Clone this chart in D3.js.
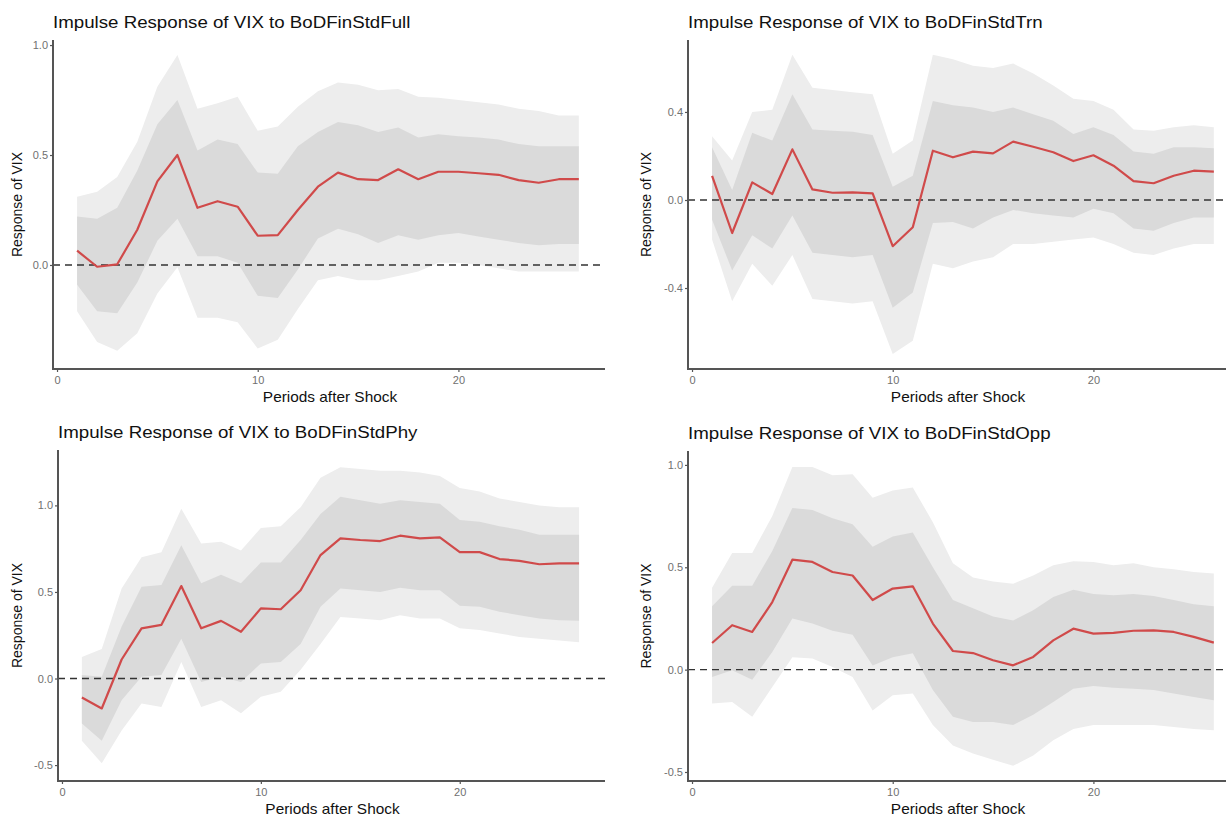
<!DOCTYPE html>
<html>
<head>
<meta charset="utf-8">
<script src="https://cdn.jsdelivr.net/npm/d3@7"></script>
<style>
  html, body { margin: 0; padding: 0; background: #ffffff; }
  svg { display: block; }
</style>
</head>
<body>
<svg id="chart" width="1226" height="817"></svg>
<script>
// ---------------- DATA ----------------
const periods = d3.range(1, 27);
const xTicks = [0, 10, 20];

// Panel 1: BoDFinStdFull
const fullIrf   = [0.065,-0.008,0.003,0.16,0.38,0.50,0.26,0.29,0.265,0.133,0.136,0.25,0.356,0.42,0.39,0.386,0.435,0.39,0.424,0.424,0.417,0.41,0.386,0.374,0.39,0.39];
const fullHi68  = [0.22,0.21,0.26,0.43,0.64,0.75,0.52,0.57,0.55,0.42,0.415,0.54,0.605,0.65,0.635,0.605,0.625,0.58,0.595,0.585,0.58,0.57,0.55,0.54,0.54,0.54];
const fullLo68  = [-0.09,-0.21,-0.22,-0.08,0.11,0.21,0.04,0.04,0.01,-0.14,-0.15,-0.02,0.12,0.165,0.14,0.10,0.135,0.115,0.135,0.145,0.13,0.115,0.10,0.09,0.095,0.095];
const fullHi95  = [0.31,0.333,0.40,0.56,0.81,0.955,0.71,0.735,0.765,0.61,0.63,0.72,0.79,0.83,0.82,0.795,0.80,0.765,0.76,0.75,0.74,0.73,0.71,0.70,0.68,0.68];
const fullLo95  = [-0.21,-0.35,-0.39,-0.31,-0.13,-0.01,-0.24,-0.24,-0.26,-0.38,-0.34,-0.2,-0.07,-0.05,-0.07,-0.07,-0.05,-0.03,0.01,0.01,0.0,-0.015,-0.03,-0.03,-0.03,-0.03];
const fullTicks = [0, 0.5, 1.0];

// Panel 2: BoDFinStdTrn
const trnIrf    = [0.11,-0.15,0.08,0.027,0.23,0.048,0.033,0.035,0.03,-0.21,-0.124,0.224,0.194,0.22,0.212,0.265,0.242,0.217,0.177,0.203,0.156,0.086,0.076,0.11,0.133,0.129];
const trnHi68   = [0.24,0.045,0.305,0.27,0.48,0.32,0.315,0.31,0.295,0.06,0.11,0.45,0.43,0.42,0.40,0.42,0.39,0.36,0.30,0.33,0.295,0.22,0.21,0.24,0.24,0.235];
const trnLo68   = [-0.09,-0.32,-0.16,-0.22,-0.07,-0.24,-0.25,-0.26,-0.25,-0.49,-0.42,-0.105,-0.10,-0.13,-0.08,-0.045,-0.06,-0.07,-0.08,-0.04,-0.06,-0.13,-0.14,-0.105,-0.08,-0.08];
const trnHi95   = [0.29,0.18,0.40,0.41,0.66,0.51,0.50,0.49,0.48,0.21,0.27,0.66,0.64,0.61,0.60,0.62,0.575,0.52,0.46,0.45,0.41,0.32,0.315,0.33,0.34,0.33];
const trnLo95   = [-0.18,-0.46,-0.29,-0.39,-0.25,-0.45,-0.46,-0.47,-0.46,-0.70,-0.64,-0.29,-0.31,-0.28,-0.26,-0.20,-0.20,-0.19,-0.18,-0.17,-0.20,-0.24,-0.25,-0.22,-0.20,-0.20];
const trnTicks  = [-0.4, 0, 0.4];

// Panel 3: BoDFinStdPhy
const phyIrf    = [-0.11,-0.173,0.11,0.29,0.31,0.534,0.29,0.333,0.27,0.405,0.40,0.51,0.713,0.81,0.80,0.794,0.825,0.81,0.815,0.73,0.73,0.69,0.68,0.66,0.665,0.665];
const phyHi68   = [0.02,0.01,0.30,0.53,0.54,0.77,0.55,0.60,0.55,0.67,0.67,0.80,0.95,1.05,1.03,1.01,1.03,1.02,1.01,0.915,0.905,0.88,0.86,0.83,0.83,0.83];
const phyLo68   = [-0.26,-0.36,-0.125,0.01,0.02,0.23,-0.02,0.01,-0.02,0.087,0.096,0.20,0.414,0.52,0.51,0.50,0.524,0.51,0.51,0.42,0.414,0.385,0.366,0.347,0.337,0.333];
const phyHi95   = [0.125,0.17,0.52,0.70,0.73,0.98,0.78,0.79,0.74,0.87,0.88,0.99,1.16,1.22,1.21,1.20,1.20,1.19,1.17,1.10,1.08,1.04,1.02,1.0,0.99,0.99];
const phyLo95   = [-0.36,-0.49,-0.30,-0.145,-0.165,0.096,-0.165,-0.125,-0.20,-0.106,-0.077,0.05,0.20,0.356,0.347,0.337,0.366,0.347,0.347,0.29,0.28,0.26,0.24,0.23,0.22,0.21];
const phyTicks  = [-0.5, 0, 0.5, 1.0];

// Panel 4: BoDFinStdOpp
const oppIrf    = [0.13,0.217,0.184,0.33,0.537,0.526,0.477,0.46,0.34,0.396,0.407,0.225,0.091,0.081,0.046,0.021,0.062,0.143,0.20,0.176,0.18,0.19,0.192,0.184,0.16,0.132];
const oppHi68   = [0.31,0.41,0.41,0.58,0.79,0.78,0.74,0.71,0.60,0.65,0.67,0.50,0.34,0.30,0.26,0.24,0.29,0.355,0.39,0.37,0.363,0.37,0.36,0.34,0.32,0.31];
const oppLo68   = [-0.036,-0.003,-0.05,0.086,0.25,0.225,0.19,0.17,0.02,0.06,0.08,-0.10,-0.23,-0.256,-0.256,-0.27,-0.22,-0.158,-0.093,-0.08,-0.088,-0.093,-0.10,-0.117,-0.134,-0.15];
const oppHi95   = [0.40,0.57,0.57,0.75,0.99,0.99,0.95,0.955,0.84,0.875,0.89,0.72,0.52,0.45,0.43,0.42,0.46,0.51,0.53,0.526,0.51,0.52,0.50,0.49,0.477,0.47];
const oppLo95   = [-0.166,-0.158,-0.23,-0.085,0.06,0.054,0.013,-0.036,-0.2,-0.125,-0.117,-0.27,-0.37,-0.41,-0.44,-0.47,-0.42,-0.345,-0.29,-0.27,-0.27,-0.27,-0.27,-0.28,-0.29,-0.296];
const oppTicks  = [-0.5, 0, 0.5, 1.0];

const titles = [
  "Impulse Response of VIX to BoDFinStdFull",
  "Impulse Response of VIX to BoDFinStdTrn",
  "Impulse Response of VIX to BoDFinStdPhy",
  "Impulse Response of VIX to BoDFinStdOpp"
];
const yLabel = "Response of VIX";
const xLabel = "Periods after Shock";

// ---------------- LAYOUT ----------------
const panels = [
  { title: titles[0], irf: fullIrf, lo68: fullLo68, hi68: fullHi68, lo95: fullLo95, hi95: fullHi95, ticks: fullTicks,
    left: 53, right: 605, top: 40, bottom: 369, yDom: [-0.473, 1.023], yLabX: 22 },
  { title: titles[1], irf: trnIrf, lo68: trnLo68, hi68: trnHi68, lo95: trnLo95, hi95: trnHi95, ticks: trnTicks,
    left: 688, right: 1240, top: 40, bottom: 369, yDom: [-0.768, 0.727], yLabX: 651 },
  { title: titles[2], irf: phyIrf, lo68: phyLo68, hi68: phyHi68, lo95: phyLo95, hi95: phyHi95, ticks: phyTicks,
    left: 58, right: 605, top: 450, bottom: 781, yDom: [-0.592, 1.32], yLabX: 22 },
  { title: titles[3], irf: oppIrf, lo68: oppLo68, hi68: oppHi68, lo95: oppLo95, hi95: oppHi95, ticks: oppTicks,
    left: 688, right: 1240, top: 451, bottom: 781, yDom: [-0.544, 1.068], yLabX: 651 }
];

const svg = d3.select("#chart");
const fmt = d3.formatLocale({decimal: ".", thousands: ",", grouping: [3], currency: ["", ""], minus: "-"}).format(".1f");
const font = "Liberation Sans, Arial, Helvetica, sans-serif";
const STRETCH = 1.1;

panels.forEach(p => {
  const x = d3.scaleLinear().domain([-0.2, 27.3]).range([p.left, p.left + 27.5 * 20.07 * (p.left < 300 ? (p.right - p.left) / 552 : 1)]);
  const y = d3.scaleLinear().domain(p.yDom).range([p.bottom, p.top]);
  const g = svg.append("g");

  const rows = periods.map((t, i) => ({ t, irf: p.irf[i], lo68: p.lo68[i], hi68: p.hi68[i], lo95: p.lo95[i], hi95: p.hi95[i] }));

  g.append("path").datum(rows)
    .attr("fill", "#ededed")
    .attr("d", d3.area().x(d => x(d.t)).y0(d => y(d.lo95)).y1(d => y(d.hi95)));
  g.append("path").datum(rows)
    .attr("fill", "#dadada")
    .attr("d", d3.area().x(d => x(d.t)).y0(d => y(d.lo68)).y1(d => y(d.hi68)));

  // zero line
  g.append("line")
    .attr("x1", p.left).attr("x2", Math.min(p.right, 1226))
    .attr("y1", y(0)).attr("y2", y(0))
    .attr("stroke", "#333").attr("stroke-width", 1.4)
    .attr("stroke-dasharray", "7,5");

  g.append("path").datum(rows)
    .attr("fill", "none")
    .attr("stroke", "#d04a4a").attr("stroke-width", 2.2)
    .attr("stroke-linejoin", "round")
    .attr("d", d3.line().x(d => x(d.t)).y(d => y(d.irf)));

  // axes
  const yAxis = g.append("g").attr("transform", `translate(${p.left},0)`)
    .call(d3.axisLeft(y).tickValues(p.ticks).tickFormat(fmt).tickSize(3).tickSizeOuter(0).tickPadding(2));
  const xAxis = g.append("g").attr("transform", `translate(0,${p.bottom})`)
    .call(d3.axisBottom(x).tickValues(xTicks).tickFormat(d3.format("d")).tickSize(3).tickSizeOuter(0).tickPadding(4));
  [yAxis, xAxis].forEach(a => {
    a.select(".domain").attr("stroke", "#555").attr("stroke-width", 2);
    a.selectAll(".tick line").attr("stroke", "#555").attr("stroke-width", 1.2);
    a.selectAll(".tick text").attr("fill", "#707070").style("font-family", font).style("font-size", "11px");
  });
  yAxis.select(".domain").attr("d", `M0,${p.top}V${p.bottom + 1}`);
  xAxis.select(".domain").attr("d", `M${p.left - 1},0H${Math.min(p.right, 1226)}`);

  // title
  g.append("text")
    .attr("transform", `translate(${p.left},${p.top - 12}) scale(${STRETCH},1)`)
    .style("font-family", font).style("font-size", "17px").attr("fill", "#111")
    .text(p.title);

  // x label
  g.append("text")
    .attr("transform", `translate(${(p.left + Math.min(p.right, 1226)) / 2 + 1},${p.bottom + 33}) scale(${STRETCH},1)`)
    .attr("text-anchor", "middle")
    .style("font-family", font).style("font-size", "14px").attr("fill", "#111")
    .text(xLabel);

  // y label
  g.append("text")
    .attr("transform", `translate(${p.yLabX},${(p.top + p.bottom) / 2}) rotate(-90)`)
    .attr("text-anchor", "middle")
    .style("font-family", font).style("font-size", "14px").attr("fill", "#111")
    .text(yLabel);
});
</script>
</body>
</html>
